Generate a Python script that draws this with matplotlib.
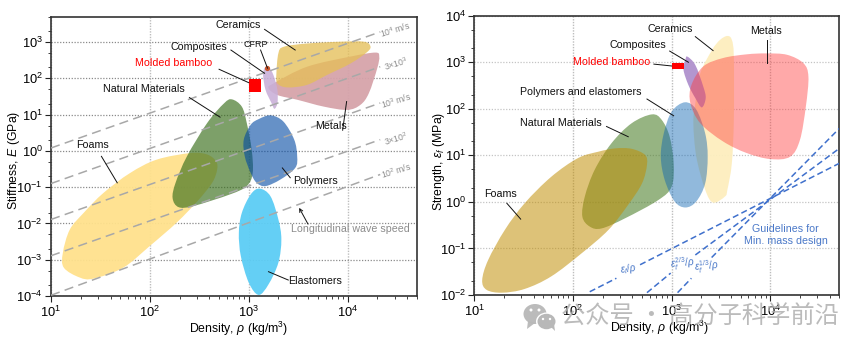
import numpy as np
import matplotlib
matplotlib.use('Agg')
import matplotlib.pyplot as plt
from matplotlib.path import Path
from matplotlib.patches import PathPatch, Ellipse, Polygon

plt.rcParams['font.family'] = ['Liberation Sans', 'DejaVu Sans']
plt.rcParams['mathtext.fontset'] = 'custom'
plt.rcParams['mathtext.rm'] = 'Liberation Sans'
plt.rcParams['mathtext.it'] = 'Liberation Sans:italic'
plt.rcParams['mathtext.default'] = 'regular'

# All outlines are log10(density), log10(property)

# Left chart: stiffness
ceramics_l_x = [3.354, 3.59, 3.93, 4.165, 4.23, 4.20, 4.03, 3.79, 3.59, 3.39, 3.29, 3.28, 3.30]
ceramics_l_y = [2.87, 2.96, 3.01, 3.01, 2.89, 2.73, 2.41, 2.09, 1.82, 1.75, 1.86, 2.14, 2.69]
metals_l_x = [4.28, 4.32, 4.30, 4.215, 4.13, 3.996, 3.76, 3.49, 3.29, 3.20, 3.25, 3.59, 4.03]
metals_l_y = [2.71, 2.60, 2.28, 1.59, 1.27, 1.13, 1.22, 1.41, 1.54, 1.73, 1.86, 2.32, 2.60]
composites_l_x = [3.20, 3.25, 3.29, 3.29, 3.26, 3.23, 3.17, 3.145, 3.16]
composites_l_y = [2.32, 2.09, 1.68, 1.32, 1.16, 1.32, 1.68, 2.09, 2.28]
natural_l_x = [2.83, 2.93, 2.98, 3.03, 3.04, 2.98, 2.81, 2.44, 2.29, 2.23, 2.26, 2.375, 2.58, 2.75]
natural_l_y = [1.42, 1.22, 0.77, 0.03, -0.61, -0.97, -1.20, -1.52, -1.55, -1.30, -0.88, -0.15, 0.77, 1.31]
polymers_l_x = [3.22, 3.35, 3.46, 3.49, 3.47, 3.32, 3.17, 3.08, 3.02, 2.96, 2.95, 3.02, 3.10]
polymers_l_y = [0.98, 0.81, 0.31, -0.15, -0.47, -0.79, -0.97, -0.88, -0.61, -0.15, 0.31, 0.72, 0.875]
elastomers_l_x = [3.11, 3.22, 3.30, 3.33, 3.30, 3.20, 3.10, 3.00, 2.92, 2.90, 2.93, 3.02]
elastomers_l_y = [-1.04, -1.25, -1.89, -2.44, -3.08, -3.68, -3.97, -3.63, -2.90, -2.26, -1.71, -1.20]
foams_l_x = [2.41, 2.58, 2.67, 2.68, 2.63, 2.48, 2.27, 2.00, 1.73, 1.43, 1.29, 1.13, 1.12, 1.19, 1.33, 1.53, 1.80, 2.07]
foams_l_y = [-0.06, -0.10, -0.29, -0.52, -0.88, -1.39, -1.98, -2.62, -3.22, -3.52, -3.49, -3.22, -2.81, -2.17, -1.71, -1.16, -0.61, -0.24]

bamboo_density = [3.0, 3.125]
bamboo_stiffness = [1.63, 1.975]
cfrp_x = 3.18
cfrp_y = 2.29

wave_x = [1.0, 4.33]
wave_y = [[0.08, 3.28], [-0.90, 2.32], [-1.89, 1.32], [-2.89, 0.31], [-3.98, -0.65]]
wave_labels = ['$10^4$ m/s', '3×$10^3$', '$10^3$ m/s', '3×$10^2$', '$10^2$ m/s']
wave_label_x = [4.48, 4.49, 4.49, 4.49, 4.49]
wave_label_y = [3.33, 2.41, 1.38, 0.33, -0.56]

labels_l = ['Ceramics', 'Composites', 'CFRP', 'Molded bamboo', 'Natural Materials',
            'Metals', 'Foams', 'Polymers', 'Elastomers']
labels_l_x = [2.89, 2.50, 3.07, 2.24, 1.94, 3.83, 1.42, 3.68, 3.67]
labels_l_y = [3.48, 2.87, 2.94, 2.43, 1.70, 0.69, 0.155, -0.83, -3.59]
leaders_l = [[3.16, 3.47, 3.35, 2.78], [2.82, 3.16, 2.78, 2.14], [3.12, 3.19, 2.78, 2.28],
             [2.70, 3.00, 2.25, 1.88], [2.40, 2.71, 1.47, 0.93], [3.99, 3.95, 1.36, 0.57],
             [1.51, 1.67, -0.15, -0.88], [3.34, 3.42, -0.47, -0.74], [3.20, 3.40, -3.33, -3.56]]

# Right chart: strength
foams_r_x = [2.43, 2.595, 2.73, 2.75, 2.70, 2.56, 2.36, 2.09, 1.78, 1.51, 1.28, 1.125, 1.08, 1.14, 1.31, 1.51, 1.78, 2.05, 2.26]
foams_r_y = [1.15, 1.14, 1.01, 0.80, 0.40, -0.06, -0.60, -1.10, -1.60, -1.87, -1.95, -1.89, -1.68, -1.25, -0.60, -0.03, 0.54, 0.94, 1.08]
natural_r_x = [2.80, 2.90, 2.98, 3.02, 3.00, 2.865, 2.53, 2.29, 2.17, 2.095, 2.12, 2.22, 2.39, 2.595]
natural_r_y = [1.88, 1.76, 1.40, 0.83, 0.33, 0.04, -0.35, -0.57, -0.53, -0.315, 0.115, 0.69, 1.26, 1.69]
polymers_r_x = [3.135, 3.25, 3.34, 3.365, 3.34, 3.25, 3.14, 3.03, 2.93, 2.89, 2.92, 3.00]
polymers_r_y = [2.14, 1.98, 1.47, 0.97, 0.40, 0.01, -0.12, 0.01, 0.47, 0.97, 1.47, 1.94]
ceramics_r_x = [3.565, 3.61, 3.63, 3.63, 3.61, 3.565, 3.54, 3.42, 3.34, 3.25, 3.22, 3.24, 3.29, 3.41, 3.49]
ceramics_r_y = [3.565, 3.48, 3.12, 1.76, 0.83, 0.26, 0.115, -0.015, 0.26, 0.97, 1.69, 2.12, 2.76, 3.265, 3.48]
metals_r_x = [3.96, 4.17, 4.335, 4.386, 4.36, 4.30, 4.20, 4.00, 3.76, 3.52, 3.29, 3.19, 3.20, 3.32, 3.52, 3.76]
metals_r_y = [3.19, 3.16, 2.98, 2.69, 2.05, 1.33, 0.97, 0.92, 1.05, 1.30, 1.69, 2.12, 2.51, 2.91, 3.09, 3.17]
composites_r_x = [3.16, 3.24, 3.32, 3.345, 3.305, 3.24, 3.17, 3.12, 3.14]
composites_r_y = [3.12, 2.94, 2.48, 2.23, 2.03, 2.23, 2.51, 2.84, 3.06]

bamboo_strength = [2.85, 2.99]

guide_1 = [[2.17, 2.44, -1.93, -1.64], [2.68, 4.70, -1.35, 0.83]]
guide_2 = [[2.75, 2.99, -1.95, -1.53], [3.24, 4.70, -1.14, 1.15]]
guide_3 = [[3.06, 3.20, -1.95, -1.64], [3.405, 4.70, -1.195, 1.58]]

labels_r = ['Ceramics', 'Metals', 'Composites', 'Molded bamboo', 'Polymers and elastomers',
            'Natural Materials', 'Foams']
labels_r_x = [2.99, 3.96, 2.66, 2.395, 2.08, 1.88, 1.27]
labels_r_y = [3.71, 3.67, 3.36, 3.0, 2.36, 1.69, 0.18]
leaders_r = [[3.24, 3.42, 3.55, 3.25], [3.97, 3.97, 3.48, 2.99], [2.98, 3.17, 3.24, 3.0],
             [2.82, 3.0, 2.96, 2.92], [2.75, 3.02, 2.21, 1.85], [2.34, 2.56, 1.62, 1.40],
             [1.33, 1.47, -0.03, -0.37]]


def blob(ax, xs, ys, color, alpha, z):
    # closed smooth curve through the outline points, smoothed in log space
    p = np.column_stack([xs, ys])
    n = len(p)
    verts = [p[0]]
    codes = [Path.MOVETO]
    for i in range(n):
        p0, p1, p2, p3 = p[i - 1], p[i], p[(i + 1) % n], p[(i + 2) % n]
        verts += [p1 + (p2 - p0) / 6, p2 - (p3 - p1) / 6, p2]
        codes += [Path.CURVE4] * 3
    path = Path(10 ** np.array(verts), codes)
    ax.add_patch(PathPatch(path, facecolor=color, edgecolor='none', alpha=alpha, zorder=z))


def setup(ax, ymin, ymax, hgrid):
    ax.set_xscale('log')
    ax.set_yscale('log')
    ax.set_xlim(10, 5e4)
    ax.set_ylim(ymin, ymax)
    ax.xaxis.set_major_locator(matplotlib.ticker.LogLocator(numticks=10))
    ax.yaxis.set_major_locator(matplotlib.ticker.LogLocator(numticks=12))
    ax.xaxis.set_minor_locator(matplotlib.ticker.LogLocator(subs=np.arange(2, 10), numticks=12))
    ax.yaxis.set_minor_locator(matplotlib.ticker.LogLocator(subs=(2, 5), numticks=12))
    ax.yaxis.set_minor_formatter(matplotlib.ticker.NullFormatter())
    ax.xaxis.set_minor_formatter(matplotlib.ticker.NullFormatter())
    ax.tick_params(which='major', length=4, width=0.8, labelsize=9.3, pad=2, color='#222222')
    ax.tick_params(which='minor', length=2, width=0.6, color='#222222')
    ax.set_axisbelow(True)
    ax.grid(True, axis='x', which='major', color='#bdbdbd', ls=(0, (1, 1)), lw=1.0)
    ax.grid(True, axis='y', which='major', color=hgrid, ls=(0, (1, 1.3)), lw=0.9)
    for s in ax.spines.values():
        s.set_linewidth(1.2)
        s.set_color('#333333')


def put_labels(ax, names, xs, ys, leaders):
    for name, x, y in zip(names, xs, ys):
        c = 'red' if name == 'Molded bamboo' else '#111111'
        size = 6.5 if name == 'CFRP' else 7.7
        ax.text(10 ** x, 10 ** y, name, color=c, fontsize=size, ha='center', va='center', zorder=10)
    for seg in leaders:
        ax.plot(10 ** np.array(seg[:2]), 10 ** np.array(seg[2:]), color='#111111', lw=0.7, zorder=9)


fig = plt.figure(figsize=(8.65, 3.51), dpi=100)
ax1 = fig.add_axes([51 / 865, 55 / 351, 365.7 / 865, 279.3 / 351])
ax2 = fig.add_axes([474.3 / 865, 56 / 351, 365 / 865, 279.3 / 351])

# left chart
setup(ax1, 1e-4, 5000, '#8a8a8a')
blob(ax1, foams_l_x, foams_l_y, '#ffe18c', 0.95, 2)
blob(ax1, natural_l_x, natural_l_y, '#376d19', 0.65, 3)
blob(ax1, polymers_l_x, polymers_l_y, '#0048a3', 0.6, 4)
blob(ax1, elastomers_l_x, elastomers_l_y, '#5ccdf5', 0.95, 4)
blob(ax1, metals_l_x, metals_l_y, '#d6a3aa', 0.95, 3)
blob(ax1, ceramics_l_x, ceramics_l_y, '#e5bf58', 0.78, 4)
blob(ax1, composites_l_x, composites_l_y, '#c9afd8', 0.88, 5)
ax1.fill_between(10 ** np.array(bamboo_density), 10 ** bamboo_stiffness[0], 10 ** bamboo_stiffness[1],
                 color='#ff0000', lw=0, zorder=7)
ax1.scatter(10 ** cfrp_x, 10 ** cfrp_y, s=14, color='#c8552a', lw=0, zorder=7)
for yy in wave_y:
    ax1.plot(10 ** np.array(wave_x), 10 ** np.array(yy), color='#a8a8a8', lw=1.1,
             ls=(0, (6, 3.5)), zorder=6)
for t, x, y in zip(wave_labels, wave_label_x, wave_label_y):
    ax1.text(10 ** x, 10 ** y, t, color='#8c8c8c', fontsize=6.2, rotation=17,
             ha='center', va='center', zorder=8)
put_labels(ax1, labels_l, labels_l_x, labels_l_y, leaders_l)
ax1.text(10 ** 4.03, 10 ** -2.16, 'Longitudinal wave speed', color='#8c8c8c', fontsize=7.7,
         ha='center', va='center', zorder=10)
ax1.annotate('', xy=(10 ** 3.51, 10 ** -1.57), xytext=(10 ** 3.60, 10 ** -2.02), zorder=10,
             arrowprops=dict(arrowstyle='->', color='#111111', lw=0.7, mutation_scale=6,
                             shrinkA=0, shrinkB=0))
ax1.set_xlabel(r'Density, $\mathit{\rho}$ (kg/m$^3$)', fontsize=8.8, labelpad=0, x=0.514)
ax1.set_ylabel(r'Stiffness, $\mathit{E}$ (GPa)', fontsize=8.8, labelpad=-4, y=0.486)

# right chart
setup(ax2, 1e-2, 1e4, '#c4c4c4')
blob(ax2, natural_r_x, natural_r_y, '#50822f', 0.6, 2)
blob(ax2, foams_r_x, foams_r_y, '#c08d00', 0.53, 3)
blob(ax2, ceramics_r_x, ceramics_r_y, '#fdeebe', 0.95, 3)
blob(ax2, polymers_r_x, polymers_r_y, '#0b64b2', 0.45, 4)
blob(ax2, composites_r_x, composites_r_y, '#af91cd', 0.95, 4)
blob(ax2, metals_r_x, metals_r_y, '#ff3939', 0.43, 5)
ax2.fill_between(10 ** np.array(bamboo_density), 10 ** bamboo_strength[0], 10 ** bamboo_strength[1],
                 color='#ff0000', lw=0, zorder=7)
for guide in [guide_1, guide_2, guide_3]:
    for seg in guide:
        ax2.plot(10 ** np.array(seg[:2]), 10 ** np.array(seg[2:]), color='#3f70cc', lw=1.1,
                 ls=(0, (4, 2.2)), zorder=7)
put_labels(ax2, labels_r, labels_r_x, labels_r_y, leaders_r)
ax2.text(10 ** 4.155, 10 ** -0.71, 'Guidelines for\nMin. mass design', color='#4a78c8', fontsize=7.7,
         ha='center', va='center', linespacing=1.3, zorder=10)
ax2.text(10 ** 2.56, 10 ** -1.45, r'$\mathit{\varepsilon_f/\rho}$', color='#4a78c8', fontsize=7,
         rotation=8, ha='center', va='center')
ax2.text(10 ** 3.11, 10 ** -1.32, r'$\mathit{\varepsilon_f^{2/3}/\rho}$', color='#4a78c8', fontsize=7,
         rotation=5, ha='center', va='center')
ax2.text(10 ** 3.35, 10 ** -1.39, r'$\mathit{\varepsilon_f^{1/3}/\rho}$', color='#4a78c8', fontsize=7,
         rotation=5, ha='center', va='center')
ax2.set_xlabel(r'Density, $\mathit{\rho}$ (kg/m$^3$)', fontsize=8.8, labelpad=0, x=0.509)
ax2.set_ylabel(r'Strength, $\mathit{\varepsilon_f}$ (MPa)', fontsize=8.8, labelpad=-5, y=0.48)

# watermark sits on top of everything, in pixel coordinates
over = fig.add_axes([0, 0, 1, 1])
over.set_xlim(0, 865)
over.set_ylim(351, 0)
over.axis('off')
over.patch.set_alpha(0)
grey = '#b8b8b8'
over.add_patch(Ellipse((535, 314), 23, 20, color=grey, alpha=0.95, lw=0))
over.add_patch(Polygon([(528, 321), (527, 329), (535, 323)], color=grey, alpha=0.95, lw=0))
over.add_patch(Ellipse((546.5, 321.5), 21, 18, color='white', lw=0))
over.add_patch(Ellipse((546.5, 321.5), 18, 15.5, color=grey, lw=0))
over.add_patch(Polygon([(550, 326), (555, 331), (554, 324)], color=grey, lw=0))
for ex, ey, er in [(531, 310, 1.5), (539, 310, 1.5), (543, 319, 1.2), (550, 319, 1.2)]:
    over.add_patch(Ellipse((ex, ey), 2 * er, 2 * er, color='white', lw=0))
over.text(700, 316, '公众号 · 高分子科学前沿', color='#b0b0b0', alpha=0.85, fontsize=17.5,
          family=['Noto Sans CJK SC', 'DejaVu Sans'], ha='center', va='center')

fig.savefig('out.png', dpi=100)
